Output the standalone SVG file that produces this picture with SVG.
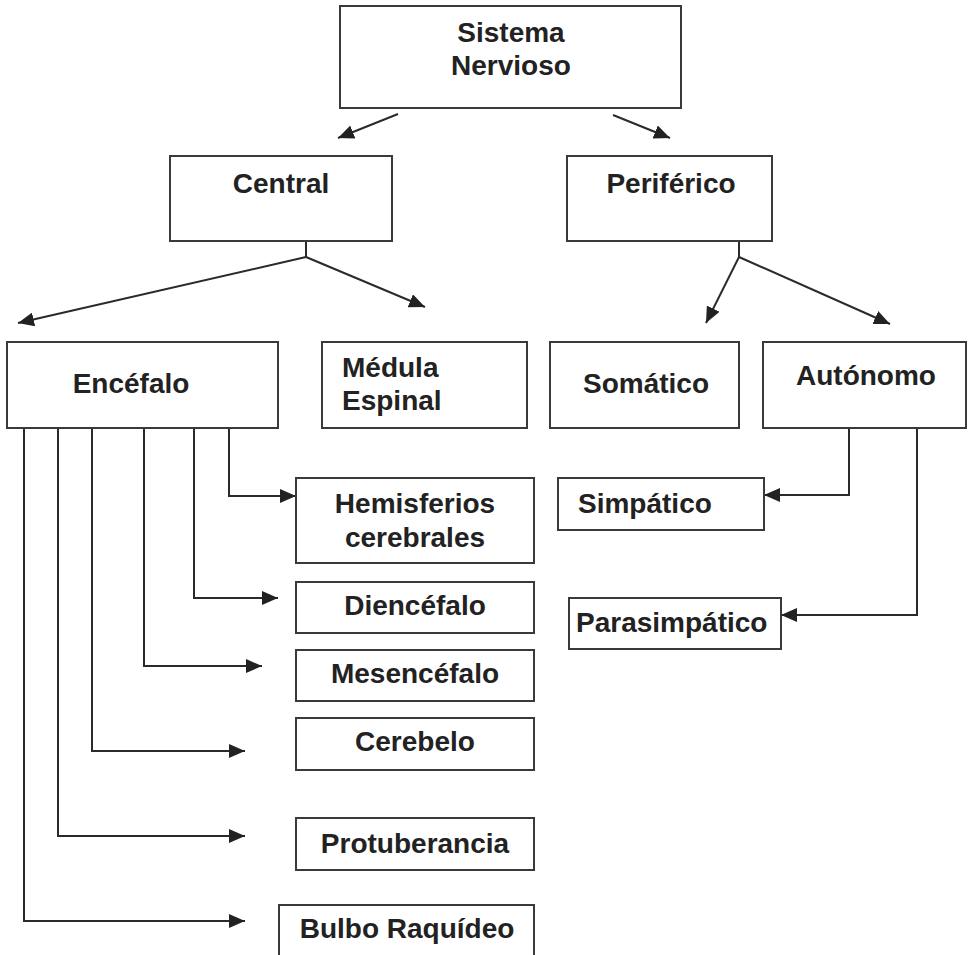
<svg xmlns="http://www.w3.org/2000/svg" width="968" height="955" viewBox="0 0 968 955">
<defs>
<style>
.box{fill:#fff;stroke:#3a3a3a;stroke-width:2}
.t{font-family:"Liberation Sans",Arial,sans-serif;font-weight:bold;font-size:28px;fill:#222}
.c{text-anchor:middle}
.ln{fill:none;stroke:#2a2a2a;stroke-width:2}
</style>
<marker id="ah" markerUnits="userSpaceOnUse" markerWidth="16" markerHeight="14" refX="16" refY="7" orient="auto">
<path d="M0,0 L16,7 L0,14 z" fill="#222"/>
</marker>
</defs>
<rect width="968" height="955" fill="#fff"/>
<g id="connectors">
<line class="ln" x1="398" y1="114" x2="338" y2="138" marker-end="url(#ah)"/>
<line class="ln" x1="613" y1="115" x2="670" y2="138" marker-end="url(#ah)"/>
<polyline class="ln" points="306,241 306,257"/>
<line class="ln" x1="306" y1="257" x2="18" y2="323" marker-end="url(#ah)"/>
<line class="ln" x1="306" y1="257" x2="425" y2="307" marker-end="url(#ah)"/>
<polyline class="ln" points="739,241 739,257"/>
<line class="ln" x1="739" y1="257" x2="706" y2="323" marker-end="url(#ah)"/>
<line class="ln" x1="739" y1="257" x2="890" y2="324" marker-end="url(#ah)"/>
<polyline class="ln" points="229,428 229,496 296,496" marker-end="url(#ah)"/>
<polyline class="ln" points="194,428 194,598 278,598" marker-end="url(#ah)"/>
<polyline class="ln" points="144,428 144,666 262,666" marker-end="url(#ah)"/>
<polyline class="ln" points="92,428 92,751 245,751" marker-end="url(#ah)"/>
<polyline class="ln" points="58,428 58,836 245,836" marker-end="url(#ah)"/>
<polyline class="ln" points="24,428 24,921 245,921" marker-end="url(#ah)"/>
<polyline class="ln" points="849,428 849,495 764,495" marker-end="url(#ah)"/>
<polyline class="ln" points="917,428 917,615 781,615" marker-end="url(#ah)"/>
</g>
<g id="sistema"><rect class="box" x="340" y="6" width="341" height="102"/><text class="t c" x="511" y="42">Sistema</text><text class="t c" x="511" y="75">Nervioso</text></g>
<g id="central"><rect class="box" x="170" y="156" width="222" height="85"/><text class="t c" x="281" y="193">Central</text></g>
<g id="periferico"><rect class="box" x="567" y="156" width="205" height="85"/><text class="t c" x="671" y="193">Periférico</text></g>
<g id="encefalo"><rect class="box" x="7" y="342" width="271" height="86"/><text class="t c" x="131" y="393">Encéfalo</text></g>
<g id="medula"><rect class="box" x="322" y="342" width="205" height="86"/><text class="t" x="342" y="377">Médula</text><text class="t" x="342" y="410">Espinal</text></g>
<g id="somatico"><rect class="box" x="550" y="342" width="189" height="86"/><text class="t c" x="646" y="393">Somático</text></g>
<g id="autonomo"><rect class="box" x="763" y="342" width="203" height="86"/><text class="t c" x="866" y="385">Autónomo</text></g>
<g id="hemisferios"><rect class="box" x="296" y="478" width="238" height="85"/><text class="t c" x="415" y="513">Hemisferios</text><text class="t c" x="415" y="547">cerebrales</text></g>
<g id="simpatico"><rect class="box" x="558" y="478" width="206" height="52"/><text class="t" x="578" y="513">Simpático</text></g>
<g id="diencefalo"><rect class="box" x="296" y="582" width="238" height="51"/><text class="t c" x="415" y="615">Diencéfalo</text></g>
<g id="parasimpatico"><rect class="box" x="569" y="598" width="212" height="51"/><text class="t" x="576" y="632">Parasimpático</text></g>
<g id="mesencefalo"><rect class="box" x="296" y="650" width="238" height="51"/><text class="t c" x="415" y="683">Mesencéfalo</text></g>
<g id="cerebelo"><rect class="box" x="296" y="718" width="238" height="52"/><text class="t c" x="415" y="751">Cerebelo</text></g>
<g id="protuberancia"><rect class="box" x="296" y="818" width="238" height="52"/><text class="t c" x="415" y="853">Protuberancia</text></g>
<g id="bulbo"><rect class="box" x="279" y="905" width="255" height="52"/><text class="t c" x="407" y="938">Bulbo Raquídeo</text></g>
</svg>
